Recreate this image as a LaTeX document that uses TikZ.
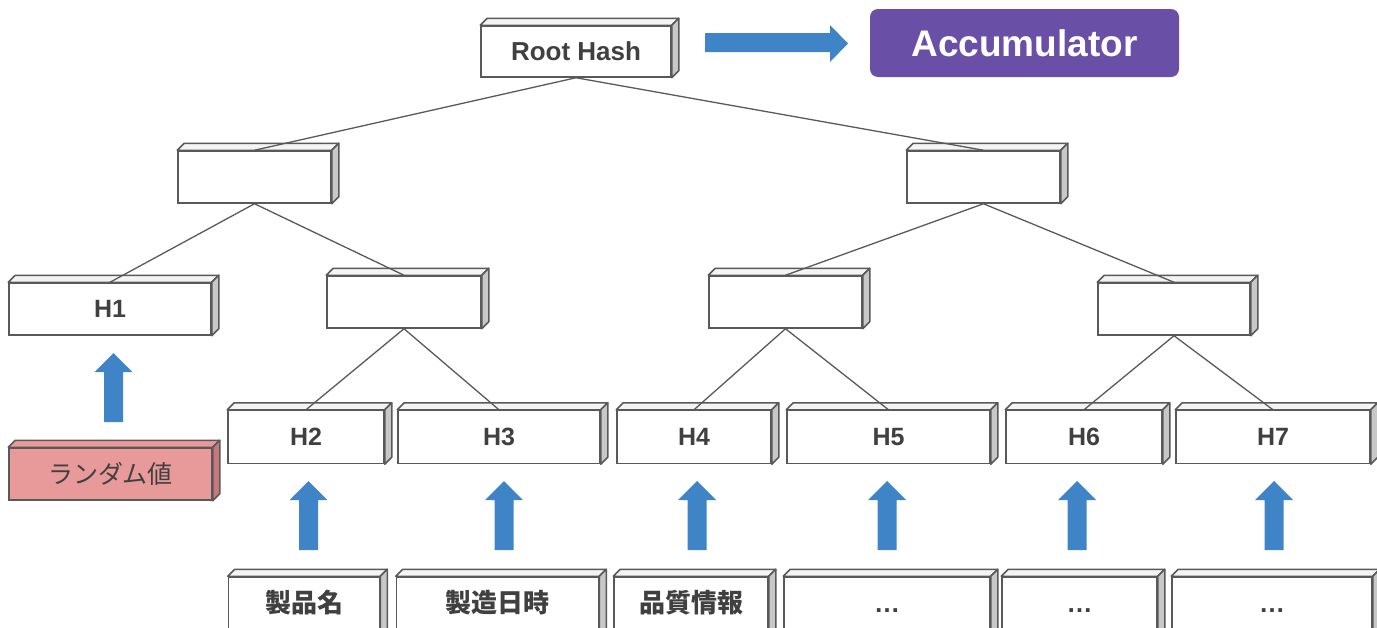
\documentclass[tikz,border=0pt]{standalone}
\usepackage{fontspec}
\setmainfont{Liberation Sans}
\newfontfamily\jp{Noto Sans CJK JP}
\usetikzlibrary{calc}
\definecolor{edge}{HTML}{595959}
\definecolor{txt}{HTML}{404040}
\definecolor{sidegray}{HTML}{C8C8C8}
\definecolor{topgray}{HTML}{F4F4F4}
\definecolor{pinkfront}{HTML}{E89A9A}
\definecolor{pinkside}{HTML}{C87878}
\definecolor{arrowblue}{HTML}{3E84C6}
\definecolor{accpurple}{HTML}{6A4FA7}
\tikzset{
  cube/.style={draw=edge, fill=white, line width=1.5pt, rectangle, inner sep=0pt,
    minimum height=52pt, text=txt, font=\fontsize{25}{29}\selectfont\bfseries},
  link/.style={draw=edge, line width=1.3pt},
  blockarrow/.style={fill=arrowblue, draw=none},
}
% top and side faces of a box, offset 7 units up and right
\newcommand{\faces}[2]{%
  \filldraw[draw=edge, line width=1.5pt, line join=round, fill=topgray]
    (#1.north west) -- ++(7,-7) -- ($(#1.north east)+(7,-7)$) -- (#1.north east) -- cycle;
  \filldraw[draw=edge, line width=1.5pt, line join=round, fill=#2]
    (#1.north east) -- ++(7,-7) -- ($(#1.south east)+(7,-7)$) -- (#1.south east) -- cycle;
}
% upward block arrow: centre x, tip y, bottom y
\newcommand{\hashup}[3]{%
  \fill[blockarrow] (#1-9.5,#3) -- (#1-9.5,#2+19) -- (#1-19,#2+19) -- (#1,#2)
    -- (#1+19,#2+19) -- (#1+9.5,#2+19) -- (#1+9.5,#3) -- cycle;
}
\begin{document}
\begin{tikzpicture}[x=1pt,y=-1pt]
\useasboundingbox (0,0) rectangle (1377,627);
\clip (0,0) rectangle (1377,627);

% tree of hash boxes
\node[cube, minimum width=190pt, minimum height=51pt, font=\fontsize{26}{30}\selectfont\bfseries] (root) at (576,51.5) {Root Hash};
\node[cube, minimum width=153pt] (la) at (254.5,177) {};
\node[cube, minimum width=153pt] (lb) at (983.5,177) {};
\node[cube, minimum width=202pt] (h1) at (110,309) {H1};
\node[cube, minimum width=154pt] (mb) at (404,302) {};
\node[cube, minimum width=153pt] (mc) at (785.5,302) {};
\node[cube, minimum width=152pt] (md) at (1174,309) {};
\node[cube, minimum width=156pt, minimum height=53pt] (h2) at (306,437) {H2};
\node[cube, minimum width=202pt, minimum height=53pt] (h3) at (499,437) {H3};
\node[cube, minimum width=154pt, minimum height=53pt] (h4) at (694,437) {H4};
\node[cube, minimum width=203pt, minimum height=53pt] (h5) at (888.5,437) {H5};
\node[cube, minimum width=156pt, minimum height=53pt] (h6) at (1084,437) {H6};
\node[cube, minimum width=194pt, minimum height=53pt] (h7) at (1273,437) {H7};

% data boxes
\node[cube, fill=pinkfront, minimum width=203pt, font=\jp\fontsize{25}{29}\selectfont] (rnd) at (110.5,474) {ランダム値};
\node[cube, minimum width=151pt, minimum height=64pt] (d2) at (304,609) {};
\node[cube, minimum width=202pt, minimum height=64pt] (d3) at (497.5,609) {};
\node[cube, minimum width=154pt, minimum height=64pt] (d4) at (691,609) {};
\node[cube, minimum width=206pt, minimum height=64pt] (d5) at (887,609) {};
\node[cube, minimum width=155pt, minimum height=64pt] (d6) at (1079.5,609) {};
\node[cube, minimum width=200pt, minimum height=64pt] (d7) at (1272,609) {};

\foreach \n in {root,la,lb,h1,mb,mc,md,h2,h3,h4,h5,h6,h7,d2,d3,d4,d5,d6,d7}{\faces{\n}{sidegray}}
\filldraw[draw=edge, line width=1.5pt, line join=round, fill=pinkfront]
  (rnd.north west) -- ++(7,-7) -- ($(rnd.north east)+(7,-7)$) -- (rnd.north east) -- cycle;
\filldraw[draw=edge, line width=1.5pt, line join=round, fill=pinkside]
  (rnd.north east) -- ++(7,-7) -- ($(rnd.south east)+(7,-7)$) -- (rnd.south east) -- cycle;

% labels of the data boxes
\begin{scope}[every node/.style={text=txt, font=\jp\fontsize{26}{30}\selectfont\bfseries}]
\node (t2) at (304,603) {製品名};
\node (t3) at (497.5,603) {製造日時};
\node (t4) at (691,603) {品質情報};
\node[font=\fontsize{26}{30}\selectfont\bfseries] (t5) at (887,611) {…};
\node[font=\fontsize{26}{30}\selectfont\bfseries] (t6) at (1079.5,611) {…};
\node[font=\fontsize{26}{30}\selectfont\bfseries] (t7) at (1272,611) {…};
\end{scope}

% tree links
\draw[link] (root.south) -- (la.north);
\draw[link] (root.south) -- (lb.north);
\draw[link] (la.south) -- (h1.north);
\draw[link] (la.south) -- (mb.north);
\draw[link] (mb.south) -- (h2.north);
\draw[link] (mb.south) -- (h3.north);
\draw[link] (lb.south) -- (mc.north);
\draw[link] (lb.south) -- (md.north);
\draw[link] (mc.south) -- (h4.north);
\draw[link] (mc.south) -- (h5.north);
\draw[link] (md.south) -- (h6.north);
\draw[link] (md.south) -- (h7.north);

% hashing arrows
\hashup{113.5}{353}{422}
\hashup{308.5}{481}{550}
\hashup{504}{481}{550}
\hashup{697}{481}{550}
\hashup{887}{481}{550}
\hashup{1077}{481}{550}
\hashup{1274}{481}{550}

% root hash goes to the accumulator
\node[fill=accpurple, rounded corners=8pt, minimum width=309pt, minimum height=68pt, inner sep=0pt,
  text=white, font=\fontsize{37}{41}\selectfont\bfseries] (acc) at (1024.5,43) {Accumulator};
\fill[blockarrow] (705,33) -- (830,33) -- (830,25) -- (848,43.5) -- (830,62) -- (830,52) -- (705,52) -- cycle;
\end{tikzpicture}
\end{document}
